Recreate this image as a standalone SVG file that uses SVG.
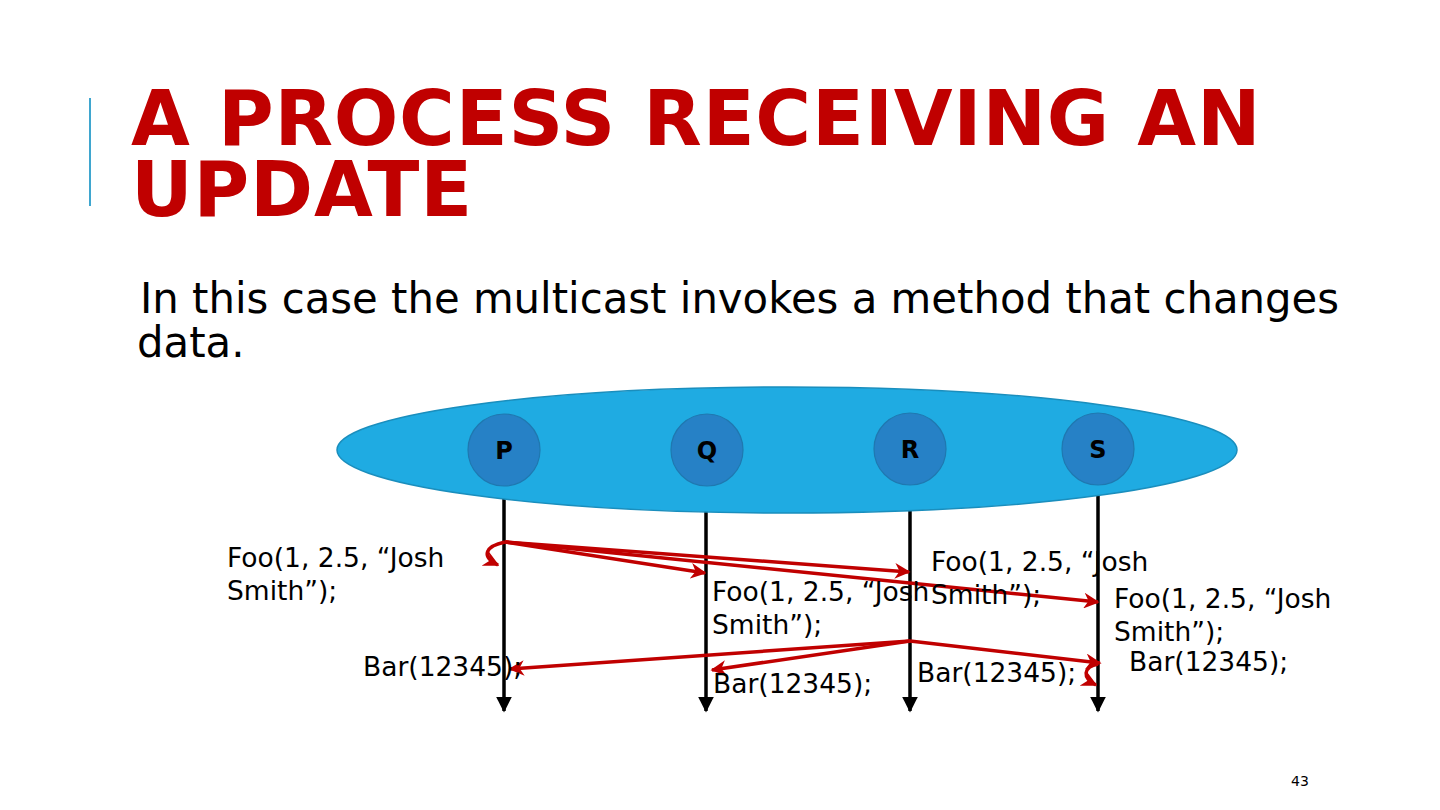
<svg xmlns="http://www.w3.org/2000/svg" width="1440" height="810" viewBox="0 0 1440 810">
<defs>
<style>
.title{font-family:"DejaVu Sans",sans-serif;font-weight:bold;font-size:76px;fill:#C00000;letter-spacing:0.8px}
.sub{font-family:"DejaVu Sans",sans-serif;font-size:41.8px;fill:#000}
.lbl{font-family:"DejaVu Sans",sans-serif;font-size:26.5px;fill:#000}
.node{font-family:"DejaVu Sans",sans-serif;font-weight:bold;font-size:24px;fill:#000;text-anchor:middle}
.life{stroke:#000;stroke-width:3.5;fill:none;marker-end:url(#blk)}
.msg{stroke:#C00000;stroke-width:3.5;fill:none;marker-end:url(#red)}
.proc{fill:#2681C6;stroke:#1F78B0;stroke-width:1.2}
</style>
<marker id="blk" viewBox="0 0 10 10" refX="9" refY="5" markerWidth="4.5" markerHeight="4.5" orient="auto" markerUnits="strokeWidth">
<path d="M0,0 L10,5 L0,10 z" fill="#000"/>
</marker>
<marker id="red" viewBox="0 0 10 10" refX="9" refY="5" markerWidth="4.5" markerHeight="4.5" orient="auto" markerUnits="strokeWidth">
<path d="M0,0 L10,5 L0,10 L3,5 z" fill="#C00000"/>
</marker>
</defs>
<rect width="1440" height="810" fill="#fff"/>
<line x1="90" y1="98" x2="90" y2="206" stroke="#3FA6CF" stroke-width="2"/>
<text class="title" x="131" y="145">A PROCESS RECEIVING AN</text>
<text class="title" x="131" y="216">UPDATE</text>
<text class="sub" x="140" y="313">In this case the multicast invokes a method that changes</text>
<text class="sub" x="137" y="357">data.</text>
<g id="lifelines">
<line class="life" x1="504" y1="470" x2="504" y2="711"/>
<line class="life" x1="706" y1="470" x2="706" y2="711"/>
<line class="life" x1="910" y1="470" x2="910" y2="711"/>
<line class="life" x1="1098" y1="470" x2="1098" y2="711"/>
</g>
<g id="group">
<ellipse cx="787" cy="450" rx="450" ry="63" fill="#1FABE2" stroke="#1A8EBD" stroke-width="1.5"/>
</g>
<g id="P"><ellipse class="proc" cx="504" cy="450" rx="36" ry="36"/><text class="node" x="504" y="459">P</text></g>
<g id="Q"><ellipse class="proc" cx="707" cy="450" rx="36" ry="36"/><text class="node" x="707" y="459">Q</text></g>
<g id="R"><ellipse class="proc" cx="910" cy="449" rx="36" ry="36"/><text class="node" x="910" y="458">R</text></g>
<g id="S"><ellipse class="proc" cx="1098" cy="449" rx="36" ry="36"/><text class="node" x="1098" y="458">S</text></g>
<g id="connectors">
<path class="msg" d="M505,542 L705,573"/>
<path class="msg" d="M505,542 L909,572"/>
<path class="msg" d="M505,542 L1098,602"/>
<path class="msg" d="M505,542 C486,546 480,556 498,565"/>
<path class="msg" d="M910,641 L510,669"/>
<path class="msg" d="M910,641 L712,670"/>
<path class="msg" d="M910,641 L1100,663"/>
<path class="msg" d="M1098,664 C1083,667 1082,678 1096,685"/>
</g>
<g id="labels">
<text class="lbl" x="227" y="567">Foo(1, 2.5, “Josh</text>
<text class="lbl" x="227" y="600">Smith”);</text>
<text class="lbl" x="712" y="601">Foo(1, 2.5, “Josh</text>
<text class="lbl" x="712" y="634">Smith”);</text>
<text class="lbl" x="931" y="571">Foo(1, 2.5, “Josh</text>
<text class="lbl" x="931" y="604">Smith”);</text>
<text class="lbl" x="1114" y="608">Foo(1, 2.5, “Josh</text>
<text class="lbl" x="1114" y="641">Smith”);</text>
<text class="lbl" x="363" y="676">Bar(12345);</text>
<text class="lbl" x="713" y="693">Bar(12345);</text>
<text class="lbl" x="917" y="682">Bar(12345);</text>
<text class="lbl" x="1129" y="671">Bar(12345);</text>
</g>
<text x="1291" y="786" font-family="DejaVu Sans, sans-serif" font-size="14" fill="#000">43</text>
</svg>
